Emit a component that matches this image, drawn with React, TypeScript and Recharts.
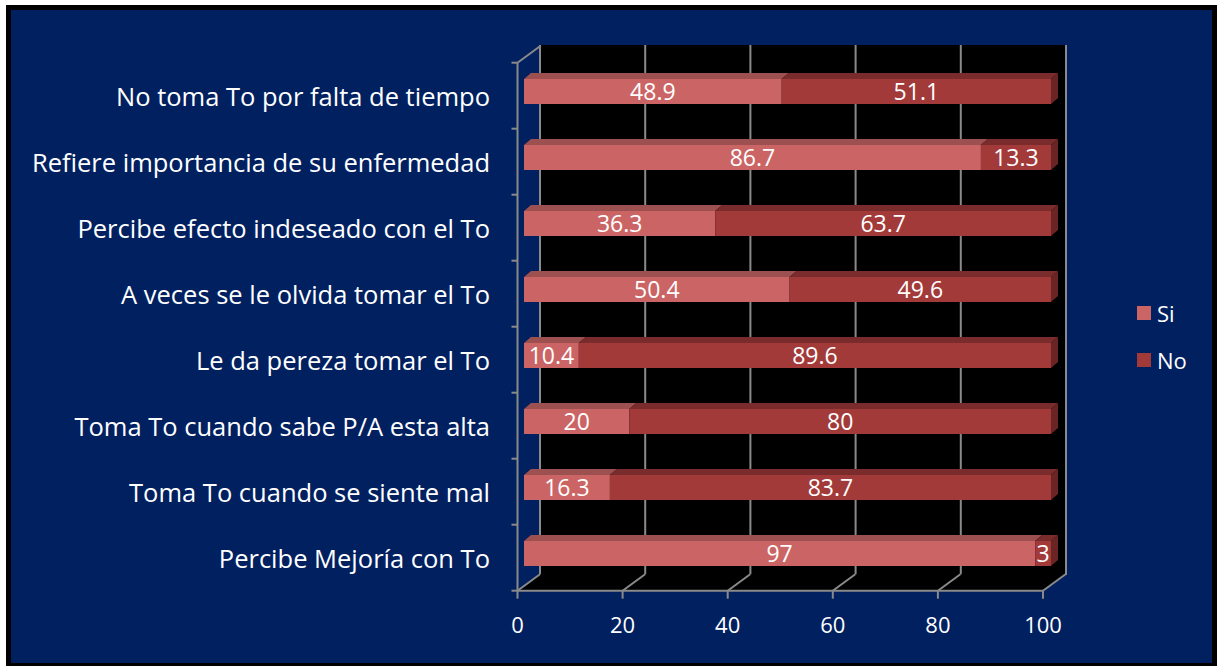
import React from 'react'
import {
  BarChart,
  Bar,
  ComposedChart,
  XAxis,
  YAxis,
  CartesianGrid,
  LabelList,
  Legend,
  ReferenceArea,
  ReferenceLine,
} from 'recharts'

const categories = [
  'No toma To por falta de tiempo',
  'Refiere importancia de su enfermedad',
  'Percibe efecto indeseado con el To',
  'A veces se le olvida tomar el To',
  'Le da pereza tomar el To',
  'Toma To cuando sabe P/A esta alta',
  'Toma To cuando se siente mal',
  'Percibe Mejoría con To',
]
const siValues = [48.9, 86.7, 36.3, 50.4, 10.4, 20, 16.3, 97]
const noValues = [51.1, 13.3, 63.7, 49.6, 89.6, 80, 83.7, 3]
const seriesNames = ['Si', 'No']
const xTicks = [0, 20, 40, 60, 80, 100]
const rowTicks = [0, 1, 2, 3, 4, 5, 6, 7, 8]

const data = categories.map((name, i) => ({ name, si: siValues[i], no: noValues[i] }))

const W = 1217
const H = 666
const FONT = '"Open Sans", sans-serif'
const NAVY = '#002060'
const GRID = '#8a8a8a'
const DX = 22.5
const DY = 16.5

const SI = { front: '#cb6565', top: '#9d5050', side: '#7d3a3a' }
const NO = { front: '#a23a3a', top: '#7a2b2b', side: '#6a2424' }

// bar segment with a small 3D top (and right side on the last segment)
const block = (c: typeof SI, side: boolean) => (props: any) => {
  const { x, y, width, height } = props
  if (!width || width <= 0) return <g />
  const d = 7
  const t = 6
  return (
    <g>
      <polygon
        points={`${x},${y} ${x + d},${y - t} ${x + width + d},${y - t} ${x + width},${y}`}
        fill={c.top}
      />
      {side && (
        <polygon
          points={`${x + width},${y} ${x + width + d},${y - t} ${x + width + d},${y + height - t} ${x + width},${y + height}`}
          fill={c.side}
        />
      )}
      <rect x={x} y={y} width={width} height={height} fill={c.front} />
    </g>
  )
}

const FloorTick = (props: any) => {
  const { x, y, payload } = props
  return (
    <g>
      <line x1={x} y1={y - 8} x2={x + DX} y2={y - 8 - DY} stroke={GRID} strokeWidth={2} />
      <text x={x} y={y + 34} textAnchor="middle" fill="#fff" fontSize={22} fontFamily={FONT}>
        {payload.value}
      </text>
    </g>
  )
}

const WallTick = (props: any) => {
  const { x, y, payload } = props
  if (payload.value !== 8) return <g />
  return <line x1={x + 6} y1={y} x2={x + 6 + DX} y2={y - DY} stroke={GRID} strokeWidth={2} />
}

const CategoryTick = (props: any) => {
  const { x, y, payload } = props
  return (
    <text x={x} y={y + 6} dy="0.355em" textAnchor="end" fill="#fff" fontSize={25.5} fontFamily={FONT}>
      {payload.value}
    </text>
  )
}

const Floor = (props: any) => {
  const { x, y, width, height } = props
  const b = y + height
  return (
    <polygon
      points={`${x},${b} ${x + width},${b} ${x + width + DX},${b - DY} ${x + DX},${b - DY}`}
      fill="#000"
    />
  )
}

const LegendBox = (props: any) => {
  const items = [...(props.payload || [])].sort(
    (a: any, b: any) => seriesNames.indexOf(a.value) - seriesNames.indexOf(b.value)
  )
  return (
    <div style={{ fontFamily: FONT, fontSize: 22, color: '#fff' }}>
      {items.map((it: any) => (
        <div key={it.value} style={{ display: 'flex', alignItems: 'center', height: 47 }}>
          <span style={{ width: 14, height: 14, background: it.color, marginRight: 6 }} />
          {it.value}
        </div>
      ))}
    </div>
  )
}

export default function App() {
  return (
    <div style={{ position: 'absolute', left: 0, top: 0, width: W, height: H, background: '#fff' }}>
      <div
        style={{
          position: 'absolute',
          left: 6,
          top: 5,
          width: W - 6,
          height: H - 5,
          boxSizing: 'border-box',
          borderStyle: 'solid',
          borderColor: '#000',
          borderWidth: '5px 5px 3px 5px',
          background: NAVY,
        }}
      />
      {/* back wall */}
      <div style={{ position: 'absolute', left: 0, top: 0 }}>
        <BarChart
          width={W}
          height={H}
          data={data}
          layout="vertical"
          margin={{ top: 45, right: W - 1066, bottom: H - 575, left: 540 }}
        >
          <CartesianGrid fill="#000" horizontal={false} vertical={false} />
          <XAxis type="number" domain={[0, 100]} ticks={xTicks} hide allowDataOverflow />
          <YAxis type="category" dataKey="name" hide />
          {xTicks.map((t) => (
            <ReferenceLine key={t} x={t} stroke={GRID} strokeWidth={2} />
          ))}
        </BarChart>
      </div>
      {/* front axes and floor */}
      <div style={{ position: 'absolute', left: 0, top: 0 }}>
        <ComposedChart
          width={W}
          height={H}
          margin={{ top: 62.7, right: W - 1043, bottom: H - 590.7 - 40, left: 507.5 }}
        >
          <XAxis
            type="number"
            dataKey="x"
            domain={[0, 100]}
            ticks={xTicks}
            height={40}
            stroke={GRID}
            strokeWidth={2}
            tickSize={8}
            tickMargin={0}
            tick={<FloorTick />}
            interval={0}
            allowDataOverflow
          />
          <YAxis
            type="number"
            dataKey="y"
            domain={[0, 8]}
            ticks={rowTicks}
            width={10}
            stroke={GRID}
            strokeWidth={2}
            tickSize={6}
            tickMargin={0}
            tick={<WallTick />}
            interval={0}
            allowDataOverflow
          />
          <ReferenceArea x1={0} x2={100} y1={0} y2={8} shape={<Floor />} ifOverflow="visible" />
        </ComposedChart>
      </div>
      {/* bars */}
      <div style={{ position: 'absolute', left: 0, top: 0 }}>
        <BarChart
          width={W}
          height={H}
          data={data}
          layout="vertical"
          barSize={25}
          margin={{ top: 58, right: W - 1051, bottom: H - 586, left: 0 }}
        >
          <XAxis type="number" domain={[0, 100]} ticks={xTicks} hide />
          <YAxis
            type="category"
            dataKey="name"
            width={524}
            axisLine={false}
            tickLine={false}
            tickSize={0}
            tickMargin={34}
            tick={<CategoryTick />}
            interval={0}
          />
          <Legend
            layout="horizontal"
            verticalAlign="middle"
            align="center"
            content={<LegendBox />}
            wrapperStyle={{ position: 'absolute', left: 1137, top: 289, width: 70 }}
          />
          <Bar dataKey="si" name="Si" stackId="a" fill={SI.front} shape={block(SI, false)} isAnimationActive={false}>
            <LabelList dataKey="si" position="center" fill="#fff" fontSize={23} fontFamily={FONT} />
          </Bar>
          <Bar dataKey="no" name="No" stackId="a" fill={NO.front} shape={block(NO, true)} isAnimationActive={false}>
            <LabelList dataKey="no" position="center" fill="#fff" fontSize={23} fontFamily={FONT} />
          </Bar>
        </BarChart>
      </div>
    </div>
  )
}
